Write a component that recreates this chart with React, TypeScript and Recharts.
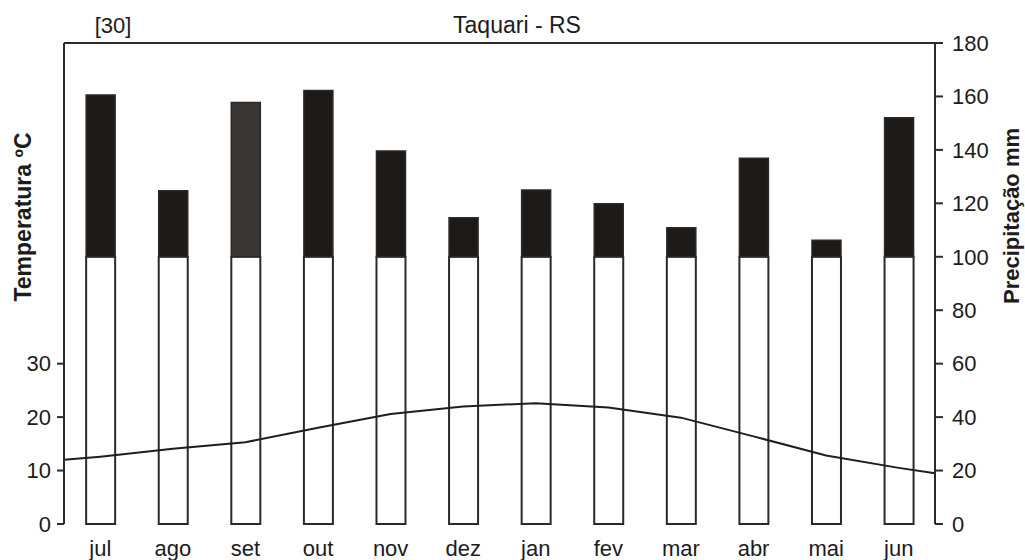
import {
  ComposedChart,
  Bar,
  Line,
  XAxis,
  YAxis,
  Cell,
  ReferenceLine,
} from "recharts";

const MONTHS = ["jul", "ago", "set", "out", "nov", "dez", "jan", "fev", "mar", "abr", "mai", "jun"];
// precipitação mensal (mm)
const PRECIP = [160.5, 124.7, 157.7, 162.2, 139.6, 114.6, 125, 119.8, 110.9, 136.9, 106.2, 152];
// temperatura média (°C)
const TEMP = [12.6, 14.1, 15.3, 18.0, 20.6, 22.0, 22.6, 21.8, 19.9, 16.4, 12.8, 10.5];
// line continues to the frame edges
const TEMP_START = 12.0;
const TEMP_END = 9.5;
const TEMP_TICKS = [0, 10, 20, 30];
const PRECIP_TICKS = [0, 20, 40, 60, 80, 100, 120, 140, 160, 180];
const GREY_MONTH = "set";

const rows = MONTHS.map((m, i) => ({
  x: i + 0.5,
  month: m,
  wet: Math.min(PRECIP[i], 100),
  excess: Math.max(PRECIP[i] - 100, 0),
}));

const tempRows = [
  { x: 0, temp: TEMP_START },
  ...TEMP.map((t, i) => ({ x: i + 0.5, temp: t })),
  { x: MONTHS.length, temp: TEMP_END },
];

const boundaries = [...MONTHS.map((_, i) => i), MONTHS.length];

const FONT = "'Liberation Sans', Arial, sans-serif";
const AXIS = "#2b2b2b";
const tickStyle = { fontSize: 22, fill: "#1c1c1c", fontFamily: FONT };

export default function App() {
  return (
    <div style={{ position: "absolute", left: 0, top: 0, width: 1025, height: 560, background: "#fff" }}>
      <ComposedChart
        width={1025}
        height={560}
        data={rows}
        margin={{ top: 43, right: 30, left: 4, bottom: 6 }}
      >
        <XAxis
          xAxisId="frame"
          dataKey="x"
          type="number"
          domain={[0, MONTHS.length]}
          ticks={boundaries}
          tickFormatter={() => ""}
          height={0}
          tickSize={8}
          axisLine={{ stroke: AXIS, strokeWidth: 2 }}
          tickLine={{ stroke: AXIS, strokeWidth: 2 }}
          interval={0}
        />
        <XAxis
          xAxisId="labels"
          dataKey="x"
          type="number"
          domain={[0, MONTHS.length]}
          ticks={rows.map((r) => r.x)}
          tickFormatter={(v) => MONTHS[Math.floor(v)]}
          height={30}
          axisLine={false}
          tickLine={false}
          tickSize={6}
          tickMargin={10}
          tick={tickStyle}
          interval={0}
        />
        <YAxis
          yAxisId="temp"
          orientation="left"
          domain={[0, 90]}
          ticks={TEMP_TICKS}
          width={60}
          tickSize={7}
          tickMargin={6}
          tick={tickStyle}
          axisLine={{ stroke: AXIS, strokeWidth: 2 }}
          tickLine={{ stroke: AXIS, strokeWidth: 2 }}
          interval={0}
        />
        <YAxis
          yAxisId="prec"
          orientation="right"
          domain={[0, 180]}
          ticks={PRECIP_TICKS}
          width={60}
          tickSize={8}
          tickMargin={9}
          tick={tickStyle}
          axisLine={{ stroke: AXIS, strokeWidth: 2 }}
          tickLine={{ stroke: AXIS, strokeWidth: 2 }}
          interval={0}
        />
        <ReferenceLine
          xAxisId="frame"
          yAxisId="prec"
          y={180}
          stroke={AXIS}
          strokeWidth={2}
          ifOverflow="extendDomain"
        />
        <Bar
          xAxisId="frame"
          yAxisId="prec"
          dataKey="wet"
          stackId="p"
          barSize={29}
          fill="#ffffff"
          stroke="#2a2a2a"
          strokeWidth={2}
          isAnimationActive={false}
        />
        <Bar
          xAxisId="frame"
          yAxisId="prec"
          dataKey="excess"
          stackId="p"
          barSize={29}
          stroke="#2a2a2a"
          strokeWidth={1.5}
          isAnimationActive={false}
        >
          {rows.map((r) => (
            <Cell key={r.month} fill={r.month === GREY_MONTH ? "#3a3633" : "#1e1a17"} />
          ))}
        </Bar>
        <Line
          xAxisId="frame"
          yAxisId="temp"
          data={tempRows}
          dataKey="temp"
          type="linear"
          stroke="#1e1e1e"
          strokeWidth={2}
          dot={false}
          activeDot={false}
          isAnimationActive={false}
        />
      </ComposedChart>
      <svg
        width={1025}
        height={560}
        style={{ position: "absolute", left: 0, top: 0, pointerEvents: "none" }}
      >
        <text x={113} y={33} textAnchor="middle" fontSize={22} fontFamily={FONT} fill="#1c1c1c">
          [30]
        </text>
        <text x={517} y={33} textAnchor="middle" fontSize={23} fontFamily={FONT} fill="#1c1c1c">
          Taquari - RS
        </text>
        <text
          transform="translate(23,217) rotate(-90)"
          textAnchor="middle"
          dominantBaseline="central"
          fontSize={23}
          fontWeight="bold"
          fontFamily={FONT}
          fill="#1c1c1c"
        >
          Temperatura ºC
        </text>
        <text
          transform="translate(1011,216) rotate(-90)"
          textAnchor="middle"
          dominantBaseline="central"
          fontSize={22}
          fontWeight="bold"
          fontFamily={FONT}
          fill="#1c1c1c"
        >
          Precipitação mm
        </text>
      </svg>
    </div>
  );
}
